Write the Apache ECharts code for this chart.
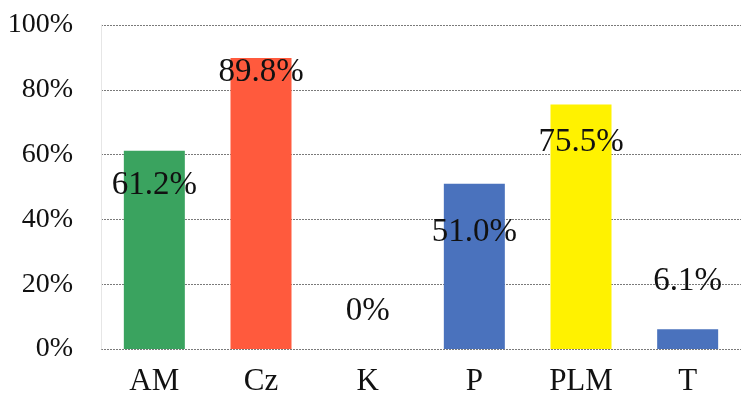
<!DOCTYPE html>
<html>
<head>
<meta charset="utf-8">
<script src="https://cdn.jsdelivr.net/npm/echarts@6/dist/echarts.min.js"></script>
<style>
  html, body { margin: 0; padding: 0; background: #fff; }
  #chart { width: 741px; height: 397px; }
</style>
</head>
<body>
<div id="chart"></div>
<script>
// Share of each group, in percent
const categories = ['AM', 'Cz', 'K', 'P', 'PLM', 'T'];
const values = [61.2, 89.8, 0, 51.0, 75.5, 6.1];
const yTicks = [0, 20, 40, 60, 80, 100];

// Bar fill per group
const barColors = ['#3aa35f', '#ff5a3d', '#4472c4', '#4a72bd', '#fff200', '#4a72bd'];
// Vertical placement of each value label, measured from the bar top (px)
const labelShift = [35, 14, -38, 49, 38, -48];

const serif = '"Liberation Serif", "DejaVu Serif", serif';

const chart = echarts.init(document.getElementById('chart'));
chart.setOption({
  animation: false,
  grid: { left: 101, top: 25, width: 645, height: 325 },
  xAxis: {
    type: 'category',
    data: categories,
    axisLine: { show: false },
    axisTick: { show: false },
    axisLabel: { color: '#111', fontFamily: serif, fontSize: 31, margin: 17 }
  },
  yAxis: {
    type: 'value',
    min: yTicks[0],
    max: yTicks[yTicks.length - 1],
    interval: 20,
    axisLine: { show: true, lineStyle: { color: '#e6e6e6', width: 1 } },
    axisTick: { show: false },
    axisLabel: {
      color: '#111', fontFamily: serif, fontSize: 28, margin: 28,
      formatter: v => v + '%'
    },
    splitLine: { lineStyle: { color: '#7a7a7a', type: [2, 1], width: 1 } }
  },
  series: [{
    type: 'bar',
    barWidth: 61,
    data: values.map((v, i) => ({
      value: v,
      itemStyle: { color: barColors[i] },
      label: {
        show: true,
        position: ['50%', labelShift[i]],
        align: 'center',
        verticalAlign: 'middle',
        formatter: () => (v === 0 ? '0' : v.toFixed(1)) + '%',
        color: '#111',
        fontFamily: serif,
        fontSize: 33
      }
    }))
  }]
});
</script>
</body>
</html>
